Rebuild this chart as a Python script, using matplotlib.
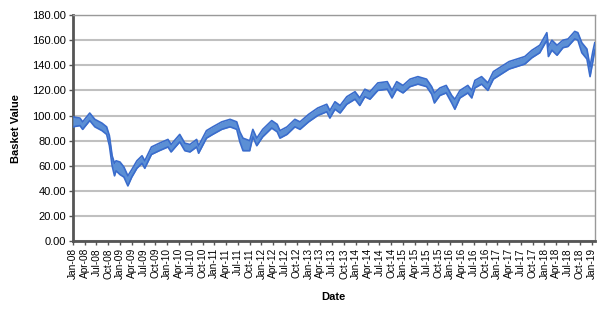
import numpy as np
import matplotlib
matplotlib.use("Agg")
import matplotlib.pyplot as plt

plt.rcParams['font.family'] = ['Liberation Sans', 'DejaVu Sans']

# months since Jan-08, basket value (middle of band) and half width of band
months = [0, 1.8, 2.5, 4.3, 5.6, 7.4, 8.6, 9.3, 10.0, 10.6, 11, 12, 13, 14, 15,
          16.3, 17.6, 18.3, 20, 22, 24.2, 25, 27.2, 28.5, 29.8, 31.5, 32, 34,
          35.6, 37.9, 40, 41.7, 42.5, 43.3, 45, 45.8, 46.8, 48.3, 50.6, 52,
          52.7, 54.5, 56.5, 57.8, 60, 62.3, 64.6, 65.4, 66.7, 68, 69.7, 71.8,
          73, 74.3, 75.6, 77.6, 80, 81.2, 82.4, 84, 85.8, 87.8, 90, 91.3, 92,
          93.4, 95, 96.4, 97.2, 98.5, 100.5, 101.5, 102.3, 104, 105.6, 107,
          109, 111, 113, 115, 116.8, 118.8, 120.6, 121, 121.9, 123.2, 124.7,
          126, 127.7, 128.5, 129.5, 130.8, 131.6, 132.3, 132.8]
mid = [95, 95, 92, 99, 94, 91, 88, 80, 64, 57, 60, 58, 55, 48, 54,
       61, 65, 61, 72, 75, 78, 74, 82, 75, 74, 78, 73, 85,
       88, 92, 94, 92, 83, 77, 76, 86, 79, 86, 93, 90,
       85, 88, 94, 92, 98, 103, 106, 101, 108, 105, 112, 116,
       111, 118, 116, 123, 124, 117, 124, 121, 126, 128, 126, 120, 114,
       119, 121, 113, 109, 117, 121, 117, 125, 128, 123, 132,
       136, 140, 142, 144, 149, 153, 163, 151, 156, 152, 157,
       158, 164, 163, 154, 149, 135, 147, 155]
half = [4, 3, 3, 3, 3, 3, 3, 4, 4, 5, 4, 5, 4, 4, 3,
        3, 3, 3, 3, 3, 3, 3, 3, 3, 3, 3, 3, 3,
        3, 3, 3, 3, 4, 5, 4, 3, 3, 3, 3, 3,
        3, 3, 3, 3, 3, 3, 3, 3, 3, 3, 3, 3,
        3, 3, 3, 3, 3, 3, 3, 3, 3, 3, 3, 3, 4,
        3, 3, 3, 4, 3, 3, 3, 3, 3, 3, 3,
        3, 3, 3, 3, 3, 3, 3, 4, 4, 4, 3,
        3, 3, 3, 4, 4, 4, 4, 3]

mon_names = ["Jan", "Apr", "Jul", "Oct"]
tick_pos = list(range(0, 133, 3))
tick_labels = [f"{mon_names[(m // 3) % 4]}-{8 + m // 12:02d}" for m in tick_pos]

x = np.array(months)
y = np.array(mid)
h = np.array(half)

fig = plt.figure(figsize=(6.02, 3.14), dpi=100)
ax = fig.add_axes([0.121, 0.232, 0.867, 0.720])

fill_c = "#5b8fd5"
edge_c = "#3a6ccc"
ax.fill_between(x, y - h, y + h, color=fill_c, lw=0, zorder=3)
ax.plot(x, y + h, color=edge_c, lw=1.2, zorder=4)
ax.plot(x, y - h, color=edge_c, lw=1.2, zorder=4)

ax.set_xlim(0, 132.8)
ax.set_ylim(0, 180)
ax.set_yticks(np.arange(0, 181, 20))
ax.set_yticklabels([f"{v:.2f}" for v in np.arange(0, 181, 20)], fontsize=8)
ax.set_xticks(tick_pos)
ax.set_xticklabels(tick_labels, rotation=90, fontsize=7.3)
ax.tick_params(axis='both', length=3, width=1, color="#555555", pad=2)

ax.grid(axis='y', color="#c0c0c0", lw=1.5, zorder=0)
ax.set_axisbelow(True)

for s in ['left', 'bottom']:
    ax.spines[s].set_color("#555555")
    ax.spines[s].set_linewidth(2)
ax.spines['top'].set_color("#999999")
ax.spines['top'].set_linewidth(1)
ax.spines['right'].set_color("#999999")
ax.spines['right'].set_linewidth(1)
ax.spines['right'].set_linestyle((0, (1, 1)))

ax.set_xlabel("Date", fontsize=8, fontweight='bold', labelpad=9)
ax.set_ylabel("Basket Value", fontsize=8, fontweight='bold', labelpad=8)

fig.savefig("out.png", dpi=100)
